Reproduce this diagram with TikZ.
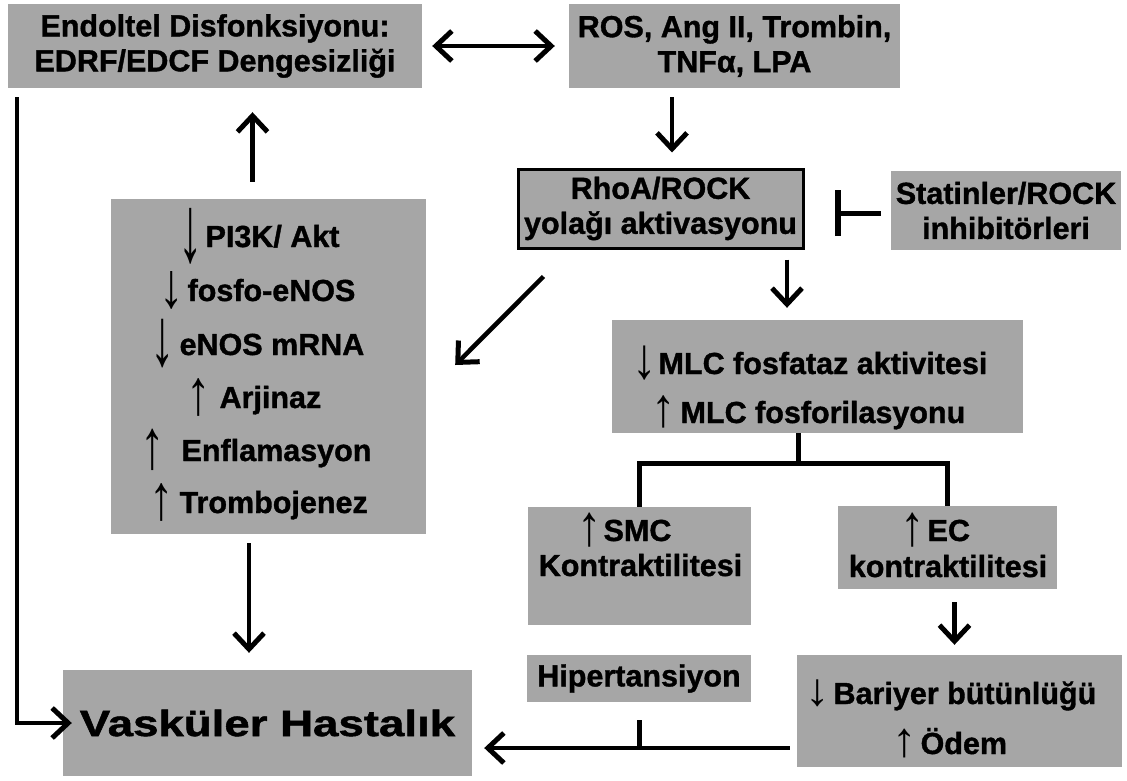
\documentclass[tikz,border=0pt]{standalone}
\usepackage{fontspec}
\setmainfont{Liberation Sans}[BoldFeatures={FakeBold=1.2}]
\usetikzlibrary{arrows.meta,positioning}

\definecolor{kutugri}{RGB}{166,166,166}
\newcommand{\yazi}{\fontsize{30.5}{35}\selectfont\bfseries}
\newcommand{\okcizgi}[2]{\smash{\raisebox{\dimexpr 11pt-0.5\height+0.5\depth\relax}{\mdseries\scalebox{1.6}[#2]{#1}}}}
\newcommand{\azalis}[1][2]{\okcizgi{↓}{#1}}
\newcommand{\artis}[1][2]{\okcizgi{↑}{#1}}

\begin{document}
\begin{tikzpicture}[x=1pt,y=-1pt,
		kutu/.style={fill=kutugri,inner sep=0pt,align=center,font=\yazi},
		satir/.style={anchor=base west,inner sep=0pt,font=\yazi},
		ucu/.tip={Straight Barb[length=16pt,width=30pt,line width=5pt]},
		akis/.style={line width=4.5pt,-ucu},
		kol/.style={line width=5pt}]
		\useasboundingbox (0,0) rectangle (1127,780);

		\draw (215,46) node[kutu,minimum width=414pt,minimum height=84pt] (endo) {Endoltel Disfonksiyonu:\\EDRF/EDCF Dengesizliği};
		\draw (734.5,46) node[kutu,minimum width=331pt,minimum height=84pt] (ros) {ROS, Ang II, Trombin,\\TNFα, LPA};
		\draw (660.5,208.5) node[kutu,draw,line width=3pt,minimum width=285pt,minimum height=79pt] (rho) {RhoA/ROCK\\yolağı aktivasyonu};
		\draw (1006,210.5) node[kutu,minimum width=230pt,minimum height=79pt] (stat) {Statinler/ROCK\\inhibitörleri};
		\draw (268.5,366.5) node[kutu,minimum width=315pt,minimum height=335pt] (risk) {};
		\draw (817.5,376.5) node[kutu,minimum width=411pt,minimum height=113pt] (mlc) {};
		\draw (639.5,566) node[kutu,minimum width=223pt,minimum height=118pt] (smc) {};
		\draw (947.5,547.5) node[kutu,minimum width=219pt,minimum height=83pt] (ec) {};
		\draw (639,678.5) node[kutu,minimum width=224pt,minimum height=47pt] (hiper) {Hipertansiyon};
		\draw (959.5,711) node[kutu,minimum width=325pt,minimum height=112pt] (bariyer) {};
		\draw (267.5,723) node[kutu,minimum width=409pt,minimum height=106pt,font=\fontsize{36.5}{40}\selectfont\bfseries] (vaskuler) {\scalebox{1.25}[1]{Vasküler Hastalık}};

		% kutu icindeki satirlar
		\draw (178,247) node[satir] (pi3k) {\azalis[3.1]\hspace{3pt}PI3K/ Akt};
		\draw (159,301) node[satir] (fosfo) {\azalis[2.1]\hspace{4pt}fosfo-eNOS};
		\draw (150,355) node[satir] (mrna) {\azalis[2.7]\hspace{5pt}eNOS mRNA};
		\draw (186,408) node[satir] (arj) {\artis[2.1]\hspace{9pt}Arjinaz};
		\draw (140,461) node[satir] (enf) {\artis[2.3]\hspace{17pt}Enflamasyon};
		\draw (149,513) node[satir] (tromb) {\artis[2.1]\hspace{6pt}Trombojenez};
		\draw (632,374) node[satir] (fosfataz) {\azalis[1.9]\hspace{2pt}MLC fosfataz aktivitesi};
		\draw (651,423) node[satir] (fosforil) {\artis[1.8]\hspace{5pt}MLC fosforilasyonu};
		\draw (577,541) node[satir] (smc1) {\artis[1.9]\hspace{2pt}SMC};
		\draw (640.5,576) node[satir,anchor=base] (smc2) {Kontraktilitesi};
		\draw (900,541) node[satir] (ec1) {\artis[1.9]\hspace{3pt}EC};
		\draw (948,577) node[satir,anchor=base] (ec2) {kontraktilitesi};
		\draw (805,704) node[satir] (bar1) {\azalis[1.5]\hspace{4pt}Bariyer bütünlüğü};
		\draw (892,754) node[satir] (bar2) {\artis[1.6]\hspace{4pt}Ödem};

		\coordinate (blok) at (835,213);
		\coordinate (ayrim) at (798,463);
		\coordinate (kavsak) at (639,748);
		\coordinate (dirsek) at (17,723);

		\path[akis]
			(endo.east) edge [ucu-ucu, shorten <=10pt, shorten >=14pt] (ros.west)
			([xshift=-62.5pt]ros.south) edge [shorten <=9pt, shorten >=15pt] ([xshift=-62.5pt]ros.south |- rho.north)
			([xshift=126.5pt]rho.south) edge [shorten <=10pt, shorten >=12pt] ([xshift=126.5pt]rho.south |- mlc.north)
			([shift={(27pt,-27pt)}]rho.south west) edge ([xshift=29pt,yshift=1.5pt]risk.east)
			([xshift=-16pt]risk.north) edge [shorten <=17pt, shorten >=24pt] ([xshift=-16pt]risk.north |- endo.south)
			([xshift=-19.5pt]risk.south) edge [shorten <=9pt, shorten >=17pt] ([xshift=-19.5pt]risk.south |- vaskuler.north)
			([xshift=7pt]ec.south) edge [shorten <=13pt, shorten >=10pt] ([xshift=7pt]ec.south |- bariyer.north)
			(bariyer.west |- kavsak) edge [shorten <=7pt, shorten >=12pt] (vaskuler.east |- kavsak);

		\draw[akis, shorten <=9pt, shorten >=-9pt] (endo.south -| dirsek) -- (dirsek) -- (vaskuler.west);
		\draw[kol, shorten <=10pt, -{Bar[width=46pt,line width=6pt]}] (stat.west |- blok) -- (blok);
		\draw[kol] (mlc.south -| ayrim) -- (ayrim);
		\draw[kol] (smc.north) |- (ayrim) -| (ec.north);
		\draw[kol, shorten <=18pt] (hiper.south) -- (kavsak);
\end{tikzpicture}
\end{document}
